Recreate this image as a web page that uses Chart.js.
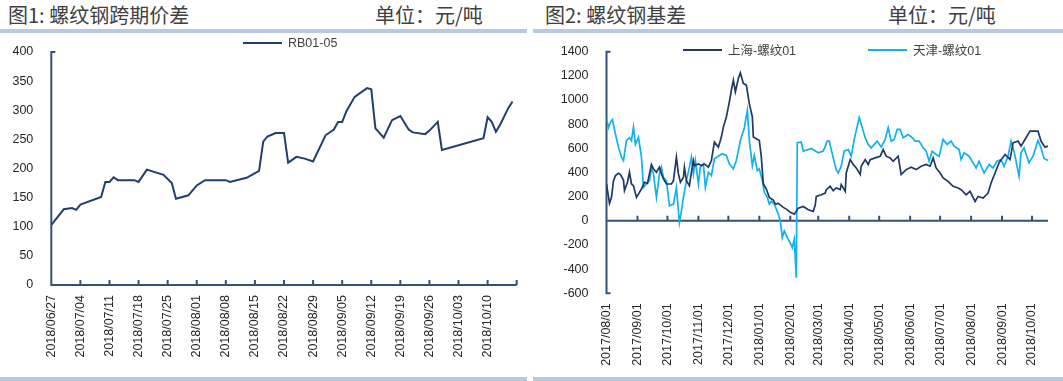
<!DOCTYPE html>
<html lang="zh-CN">
<head>
<meta charset="utf-8">
<title>螺纹钢跨期价差与基差</title>
<script src="https://cdn.jsdelivr.net/npm/chart.js@4.4.1/dist/chart.umd.min.js"></script>
<style>
  body { margin: 0; background: #fff; }
  #page { position: relative; width: 1063px; height: 381px; overflow: hidden; font-family: "Noto Sans CJK SC", "Liberation Sans", sans-serif; }
  .title { position: absolute; top: 3px; font-size: 20px; line-height: 24px; color: #404040; white-space: nowrap; }
  .bar { position: absolute; height: 4px; background: #b8cae3; }
  canvas { position: absolute; top: 0; }
  .legend { position: absolute; font: 12.5px "Liberation Sans", "Noto Sans CJK SC", sans-serif; color: #404040; white-space: nowrap; display: flex; }
  .legend .item { display: flex; align-items: center; }
  .legend .line { display: inline-block; width: 39px; height: 2px; margin-right: 6px; }
</style>
</head>
<body>
<div id="page">
  <div class="title" style="left:8px">图1: 螺纹钢跨期价差</div>
  <div class="title" style="left:375px">单位：元/吨</div>
  <div class="title" style="left:545px">图2: 螺纹钢基差</div>
  <div class="title" style="left:888px">单位：元/吨</div>
  <div class="bar" style="left:0; width:527px; top:29px"></div>
  <div class="bar" style="left:533px; width:530px; top:29px"></div>
  <div class="bar" style="left:0; width:527px; top:377px"></div>
  <div class="bar" style="left:533px; width:530px; top:377px"></div>

  <canvas id="spreadChart" width="530" height="381" style="left:0"></canvas>
  <canvas id="basisChart" width="531" height="381" style="left:532px"></canvas>

  <div class="legend" id="spreadLegend" style="left:243px; top:36px"></div>
  <div class="legend" id="basisLegend" style="left:683px; top:40px"></div>
</div>

<script>
// 图1: RB01-05 价差 (2018年)
const rbYear = 2018;
const rbTicks = ['2018/06/27', '2018/07/04', '2018/07/11', '2018/07/18', '2018/07/25', '2018/08/01',
    '2018/08/08', '2018/08/15', '2018/08/22', '2018/08/29', '2018/09/05', '2018/09/12',
    '2018/09/19', '2018/09/26', '2018/10/03', '2018/10/10'];
const rbDates = ['06/27', '06/30', '07/02', '07/03', '07/04', '07/09', '07/10', '07/11', '07/12', '07/13',
    '07/17', '07/18', '07/20', '07/24', '07/26', '07/27', '07/30', '08/01', '08/03', '08/08',
    '08/09', '08/13', '08/16', '08/17', '08/18', '08/20', '08/22', '08/23', '08/25', '08/27',
    '08/29', '09/01', '09/03', '09/04', '09/05', '09/06', '09/08', '09/11', '09/12', '09/13',
    '09/15', '09/17', '09/19', '09/21', '09/22', '09/25', '09/26', '09/28', '09/29', '10/09',
    '10/10', '10/11', '10/12', '10/13', '10/15', '10/16'];
const rbValues = [103, 130, 132, 129, 138, 151, 177, 177, 185, 180,
    180, 177, 198, 189, 175, 148, 154, 171, 180, 180,
    177, 184, 196, 246, 255, 261, 261, 210, 220, 217,
    212, 257, 267, 280, 280, 298, 323, 338, 336, 269,
    253, 283, 290, 267, 262, 259, 265, 280, 232, 252,
    288, 280, 263, 275, 304, 315];

// 图2: 基差, x = 距 2017/08/01 的天数
const basisStart = '2017-08-01';
const basisTicks = ['2017/08/01', '2017/09/01', '2017/10/01', '2017/11/01', '2017/12/01', '2018/01/01',
    '2018/02/01', '2018/03/01', '2018/04/01', '2018/05/01', '2018/06/01', '2018/07/01',
    '2018/08/01', '2018/09/01', '2018/10/01'];
const shDays = [0, 3, 5, 7, 9, 12, 14, 17, 18, 21, 23, 25, 27, 30, 33, 35, 38, 41, 43, 45,
    47, 50, 53, 55, 57, 60, 65, 67, 70, 72, 74, 77, 78, 80, 83, 85, 87, 88, 92, 95,
    98, 102, 105, 108, 112, 115, 117, 120, 123, 125, 127, 129, 132, 134, 137, 140, 143, 146, 147, 150,
    153, 155, 157, 160, 163, 167, 169, 172, 177, 180, 184, 188, 192, 197, 202, 207, 209, 210, 215, 219,
    220, 224, 227, 230, 234, 235, 239, 240, 244, 247, 250, 254, 255, 259, 262, 264, 269, 274, 277, 280,
    284, 287, 292, 295, 300, 305, 310, 315, 320, 324, 327, 330, 334, 337, 342, 347, 352, 355, 360, 364,
    369, 372, 377, 382, 385, 389, 393, 399, 404, 407, 412, 415, 420, 424, 432, 435, 439, 442];
const shValues = [305, 144, 194, 333, 374, 394, 383, 338, 250, 319, 402, 305, 291, 194, 236, 263, 319, 310, 388, 466,
    430, 402, 444, 388, 347, 305, 305, 333, 527, 388, 319, 360, 444, 333, 291, 402, 499, 458, 471, 458,
    471, 444, 499, 652, 610, 693, 776, 860, 985, 1081, 1164, 1068, 1178, 1225, 1137, 1123, 970, 860, 693, 679,
    665, 527, 305, 263, 194, 172, 139, 144, 111, 97, 70, 55, 105, 119, 91, 78, 133, 202, 216, 230,
    258, 286, 250, 272, 258, 300, 244, 396, 507, 466, 438, 383, 452, 507, 466, 507, 521, 535, 590, 535,
    521, 493, 535, 383, 424, 444, 424, 452, 466, 452, 521, 438, 396, 355, 327, 286, 272, 258, 216, 244,
    161, 202, 189, 230, 313, 396, 480, 549, 507, 646, 660, 618, 688, 743, 743, 660, 610, 618];
const tjDays = [0, 2, 4, 6, 8, 12, 15, 17, 20, 23, 25, 27, 29, 32, 35, 37, 40, 43, 45, 47,
    50, 53, 55, 57, 60, 63, 67, 70, 73, 75, 77, 80, 83, 85, 87, 89, 92, 94, 97, 99,
    102, 105, 108, 113, 116, 120, 123, 127, 130, 134, 138, 141, 143, 146, 148, 151, 153, 156, 158, 161,
    163, 165, 168, 172, 174, 176, 178, 181, 183, 186, 188, 190, 191, 195, 197, 202, 205, 212, 217, 221,
    223, 227, 230, 232, 235, 238, 242, 245, 248, 253, 257, 259, 262, 265, 271, 275, 279, 282, 285, 288,
    291, 294, 297, 302, 306, 309, 313, 317, 320, 323, 326, 330, 333, 337, 341, 345, 348, 353, 355, 358,
    363, 367, 370, 373, 378, 383, 387, 391, 395, 398, 402, 405, 408, 413, 415, 418, 423, 427, 432, 435,
    438, 442];
const tjValues = [846, 771, 818, 837, 754, 610, 527, 499, 665, 688, 665, 776, 632, 693, 527, 277, 305, 333, 444, 388,
    194, 388, 444, 360, 333, 125, 139, 277, -14, 83, 194, 333, 444, 527, 388, 499, 305, 444, 471, 277,
    402, 374, 513, 541, 555, 541, 471, 430, 499, 665, 771, 915, 665, 458, 541, 416, 430, 333, 236, 194,
    139, 161, 139, 55, 0, -139, -83, -139, -166, -222, -152, -471, 646, 652, 577, 590, 599, 563, 577, 660,
    660, 521, 424, 396, 452, 577, 590, 535, 674, 854, 743, 688, 632, 604, 660, 610, 674, 771, 660, 674,
    757, 757, 688, 715, 688, 660, 660, 604, 577, 493, 577, 549, 535, 674, 632, 660, 618, 590, 507, 563,
    535, 480, 438, 493, 396, 466, 438, 493, 507, 452, 535, 660, 577, 369, 563, 604, 480, 535, 665, 604,
    516, 499];

const labelColor = '#262626';
const axisColor = '#34507d';

function dayOf(dateStr, base) {
    return Math.round((Date.parse(dateStr.replace(/\//g, '-')) - Date.parse(base)) / 864e5);
}

// axis lines and inward tick marks, drawn under the lines
const axisMarks = {
    id: 'axisMarks',
    beforeDatasetsDraw(chart) {
        const { ctx, chartArea: a, scales: { x, y } } = chart;
        const y0 = y.getPixelForValue(0);
        ctx.save();
        ctx.strokeStyle = axisColor;
        ctx.lineWidth = 2;
        ctx.beginPath();
        ctx.moveTo(a.left + 4, a.top);
        ctx.lineTo(a.left, a.top);
        ctx.lineTo(a.left, a.bottom);
        ctx.lineTo(a.left + 4, a.bottom);
        ctx.moveTo(a.left, y0);
        ctx.lineTo(a.right, y0);
        x.ticks.forEach(t => {
            const px = x.getPixelForValue(t.value);
            ctx.moveTo(px, y0);
            ctx.lineTo(px, y0 - 5);
        });
        ctx.stroke();
        ctx.restore();
    }
};

function buildLegend(chart, elId, gap) {
    const box = document.getElementById(elId);
    chart.data.datasets.forEach((ds, i) => {
        const item = document.createElement('div');
        item.className = 'item';
        if (i > 0) item.style.marginLeft = gap + 'px';
        item.innerHTML = `<span class="line" style="background:${ds.borderColor}"></span><span>${ds.label}</span>`;
        box.appendChild(item);
    });
}

const tickFont = { family: '"Liberation Sans", sans-serif', size: 12.5 };

function fixHeight(h) {
    return s => { s.height = h; s.paddingLeft = 0; s.paddingRight = 0; };
}

const spreadChart = new Chart(document.getElementById('spreadChart'), {
    type: 'line',
    data: {
        datasets: [{
            label: 'RB01-05',
            data: rbDates.map((d, i) => ({ x: dayOf(rbYear + '/' + d, '2018-06-27'), y: rbValues[i] })),
            borderColor: '#233d6e',
            borderWidth: 2,
            pointRadius: 0,
            tension: 0
        }]
    },
    options: {
        responsive: false,
        animation: false,
        layout: { padding: { top: 52, right: 13.3, left: 0, bottom: 0 } },
        plugins: { legend: { display: false }, tooltip: { enabled: false } },
        scales: {
            x: {
                type: 'linear',
                min: 0,
                max: 112,
                grid: { display: false, drawTicks: false },
                border: { display: false },
                afterFit: fixHeight(96),
                ticks: {
                    stepSize: 7,
                    autoSkip: false,
                    minRotation: 90,
                    maxRotation: 90,
                    padding: 10,
                    color: labelColor,
                    font: tickFont,
                    callback: (v, i) => rbTicks[i] || ''
                }
            },
            y: {
                min: 0,
                max: 400,
                grid: { display: false, drawTicks: false },
                border: { display: false },
                afterFit: s => { s.width = 51.3; },
                ticks: { stepSize: 50, padding: 18, color: labelColor, font: tickFont, callback: v => String(v) }
            }
        }
    },
    plugins: [axisMarks]
});

const basisChart = new Chart(document.getElementById('basisChart'), {
    type: 'line',
    data: {
        datasets: [{
            label: '上海-螺纹01',
            data: shDays.map((d, i) => ({ x: d, y: shValues[i] })),
            borderColor: '#1f3864',
            borderWidth: 1.7,
            pointRadius: 0,
            tension: 0
        }, {
            label: '天津-螺纹01',
            data: tjDays.map((d, i) => ({ x: d, y: tjValues[i] })),
            borderColor: '#12b0ee',
            borderWidth: 1.7,
            pointRadius: 0,
            tension: 0
        }]
    },
    options: {
        responsive: false,
        animation: false,
        layout: { padding: { top: 51.7, right: 15, left: 0, bottom: 0 } },
        plugins: { legend: { display: false }, tooltip: { enabled: false } },
        scales: {
            x: {
                type: 'linear',
                min: 0,
                max: 442,
                grid: { display: false, drawTicks: false },
                border: { display: false },
                afterFit: fixHeight(87.7),
                afterBuildTicks: s => {
                    s.ticks = basisTicks.map(t => ({ value: dayOf(t, basisStart) }));
                },
                ticks: {
                    autoSkip: false,
                    minRotation: 90,
                    maxRotation: 90,
                    padding: 10,
                    color: labelColor,
                    font: tickFont,
                    callback: (v, i) => basisTicks[i]
                }
            },
            y: {
                min: -600,
                max: 1400,
                grid: { display: false, drawTicks: false },
                border: { display: false },
                afterFit: s => { s.width = 74.5; },
                ticks: { stepSize: 200, padding: 18, color: labelColor, font: tickFont, callback: v => String(v) }
            }
        }
    },
    plugins: [axisMarks]
});

buildLegend(spreadChart, 'spreadLegend', 0);
buildLegend(basisChart, 'basisLegend', 72);
</script>
</body>
</html>
